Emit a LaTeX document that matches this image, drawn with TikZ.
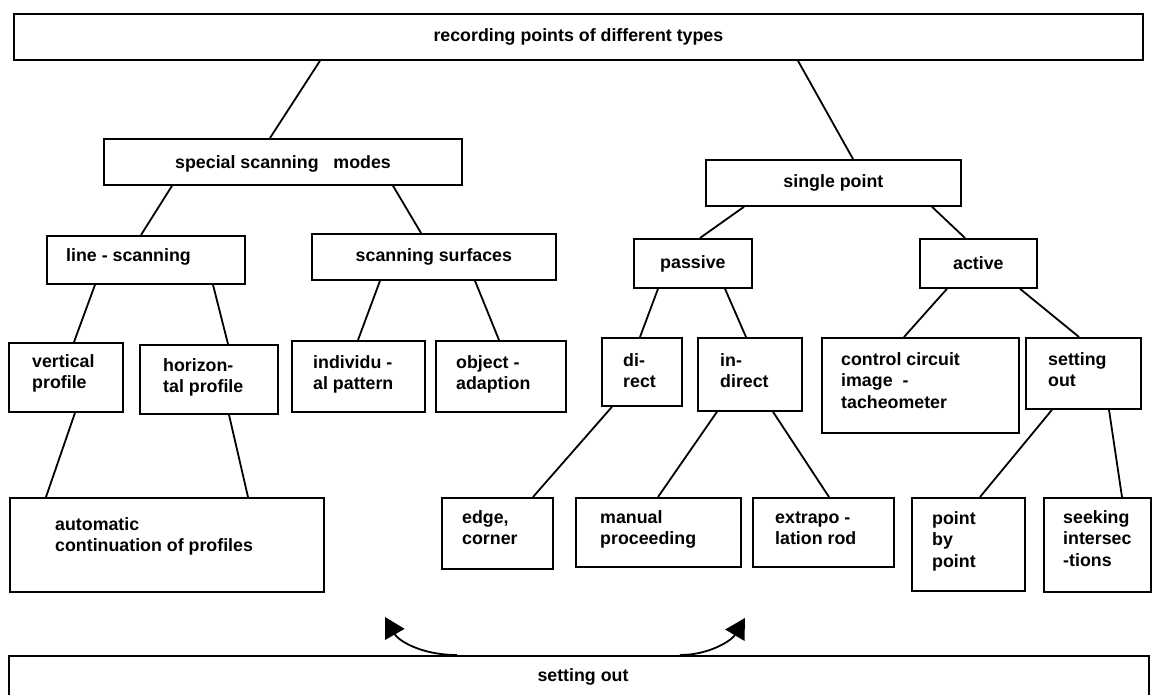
\documentclass[tikz,border=0pt]{standalone}
\usepackage{fontspec}
\setmainfont{Liberation Sans}
\usetikzlibrary{arrows.meta}
\begin{document}
\begin{tikzpicture}[x=1pt,y=-1pt,
  box/.style={draw,line width=1.8pt,rectangle,inner sep=0pt,anchor=north west,
    font=\bfseries\fontsize{17.8}{21.7}\selectfont},
  lbl/.style={inner sep=0pt,align=left,anchor=base west,
    font=\bfseries\fontsize{17.8}{21.7}\selectfont},
  con/.style={line width=1.8pt},
  arr/.style={line width=1.8pt,-{Triangle[length=20pt,width=22pt]}}]
\useasboundingbox (0,0) rectangle (1152,695);
\clip (0,0) rectangle (1152,695);
% boxes (multi-line labels are placed by the baseline of their last line)
\node[box,minimum width=1129pt,minimum height=46pt] (top) at (13,13) {recording points of different types};
\node[box,minimum width=358pt,minimum height=46pt] (sp) at (103,138) {};
\node[lbl] (sptxt) at (175,169) {special scanning\ \ \ modes};
\node[box,minimum width=255pt,minimum height=46pt] (si) at (705,159) {single point};
\node[box,minimum width=198pt,minimum height=48pt] (ls) at (46,235) {};
\node[lbl] (lstxt) at (66,262) {line - scanning};
\node[box,minimum width=244pt,minimum height=46pt] (ss) at (311,233) {scanning surfaces};
\node[box,minimum width=118pt,minimum height=49pt] (pa) at (633,238) {passive};
\node[box,minimum width=117pt,minimum height=49pt] (ac) at (919,238) {active};
\node[box,minimum width=114pt,minimum height=69pt] (vp) at (8,342) {};
\node[lbl] (vptxt) at (32,388.7) {vertical\\profile};
\node[box,minimum width=138pt,minimum height=69pt] (hp) at (139,344) {};
\node[lbl] (hptxt) at (163,392.7) {horizon-\\tal profile};
\node[box,minimum width=133pt,minimum height=71pt] (ip) at (291,340) {};
\node[lbl] (iptxt) at (313,389.7) {individu -\\al pattern};
\node[box,minimum width=130pt,minimum height=71pt] (oa) at (435,340) {};
\node[lbl] (oatxt) at (456,389.7) {object -\\adaption};
\node[box,minimum width=80pt,minimum height=68pt] (di) at (601,337) {};
\node[lbl] (ditxt) at (623,387.7) {di-\\rect};
\node[box,minimum width=104pt,minimum height=73pt] (in) at (697,337) {};
\node[lbl] (intxt) at (720,387.7) {in-\\direct};
\node[box,minimum width=197pt,minimum height=95pt] (cc) at (821,337) {};
\node[lbl] (cctxt) at (841,408.4) {control circuit\\image\ \ -\\tacheometer};
\node[box,minimum width=115pt,minimum height=71pt] (so) at (1025,337) {};
\node[lbl] (sotxt) at (1048,386.7) {setting\\out};
\node[box,minimum width=314pt,minimum height=94pt] (au) at (9,497) {};
\node[lbl] (autxt) at (55,551.7) {automatic\\continuation of profiles};
\node[box,minimum width=111pt,minimum height=71pt] (ec) at (441,497) {};
\node[lbl] (ectxt) at (462,544.7) {edge,\\corner};
\node[box,minimum width=165pt,minimum height=69pt] (mp) at (575,497) {};
\node[lbl] (mptxt) at (600,544.7) {manual\\proceeding};
\node[box,minimum width=141pt,minimum height=69pt] (ex) at (752,497) {};
\node[lbl] (extxt) at (775,544.7) {extrapo -\\lation rod};
\node[box,minimum width=113pt,minimum height=93pt] (pp) at (911,497) {};
\node[lbl] (pptxt) at (932,567.4) {point\\by\\point};
\node[box,minimum width=107pt,minimum height=94pt] (se) at (1043,497) {};
\node[lbl] (setxt) at (1063,566.4) {seeking\\intersec\\-tions};
\node[box,minimum width=1140pt,minimum height=60pt] (bot) at (8,655) {};
\node[lbl,anchor=base] (bottxt) at (583,681) {setting out};
% connectors
\draw[con] ([xshift=307pt]top.south west) -- ([xshift=167pt]sp.north west);
\draw[con] ([xshift=785pt]top.south west) -- ([xshift=148pt]si.north west);
\draw[con] ([xshift=69pt]sp.south west) -- ([xshift=95pt]ls.north west);
\draw[con] ([xshift=290pt]sp.south west) -- ([xshift=110pt]ss.north west);
\draw[con] ([xshift=39pt]si.south west) -- ([xshift=67pt]pa.north west);
\draw[con] ([xshift=227pt]si.south west) -- ([xshift=46pt]ac.north west);
\draw[con] ([xshift=49pt]ls.south west) -- ([xshift=66pt]vp.north west);
\draw[con] ([xshift=167pt]ls.south west) -- ([xshift=89pt]hp.north west);
\draw[con] ([xshift=69pt]ss.south west) -- ([xshift=67pt]ip.north west);
\draw[con] ([xshift=164pt]ss.south west) -- ([xshift=64pt]oa.north west);
\draw[con] ([xshift=25pt]pa.south west) -- ([xshift=39pt]di.north west);
\draw[con] ([xshift=92pt]pa.south west) -- ([xshift=49pt]in.north west);
\draw[con] ([xshift=28pt]ac.south west) -- ([xshift=83pt]cc.north west);
\draw[con] ([xshift=101pt]ac.south west) -- ([xshift=54pt]so.north west);
\draw[con] ([xshift=67pt]vp.south west) -- ([xshift=37pt]au.north west);
\draw[con] ([xshift=90pt]hp.south west) -- ([xshift=239pt]au.north west);
\draw[con] ([xshift=11pt]di.south west) -- ([xshift=92pt]ec.north west);
\draw[con] ([xshift=20pt]in.south west) -- ([xshift=83pt]mp.north west);
\draw[con] ([xshift=76pt]in.south west) -- ([xshift=77pt]ex.north west);
\draw[con] ([xshift=27pt]so.south west) -- ([xshift=69pt]pp.north west);
\draw[con] ([xshift=84pt]so.south west) -- ([xshift=79pt]se.north west);
% arrows
\coordinate (tl) at (385,617);
\coordinate (tr) at (745,618);
\draw[arr] ([xshift=449pt]bot.north west) .. controls (420,655) and (398,640) .. (tl);
\draw[arr] ([xshift=672pt]bot.north west) .. controls (710,655) and (732,640) .. (tr);
\end{tikzpicture}
\end{document}
